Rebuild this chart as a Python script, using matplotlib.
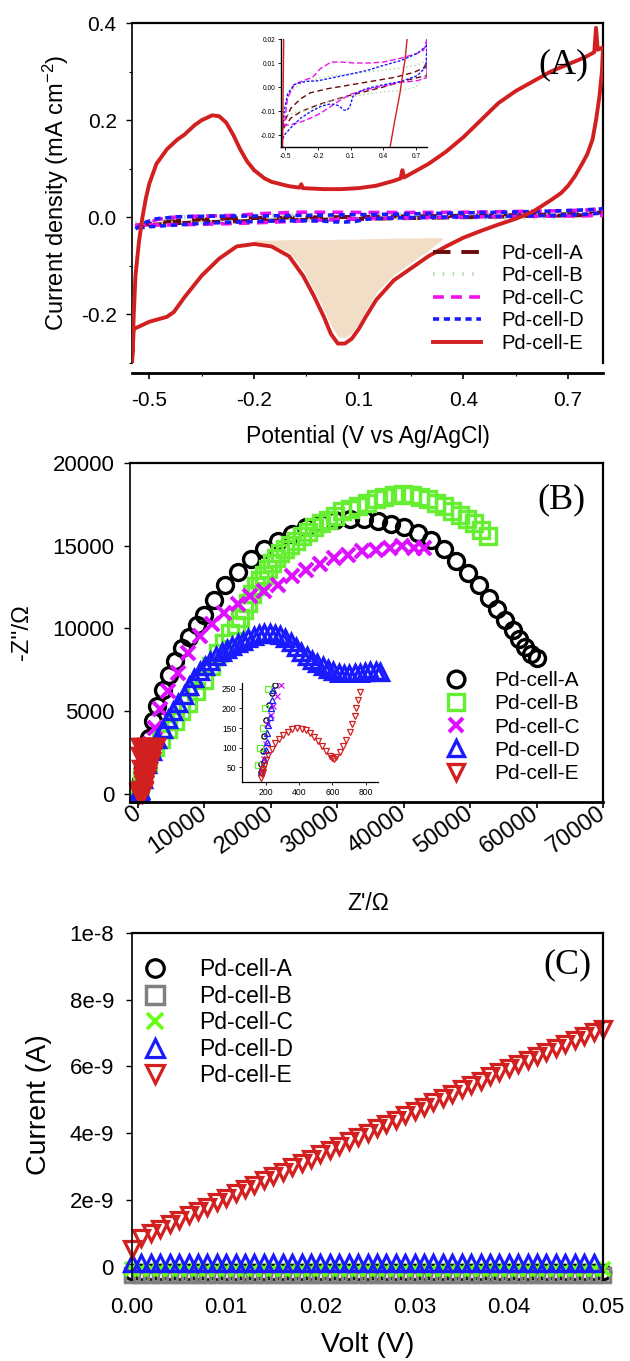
import matplotlib
matplotlib.use('Agg')
import matplotlib.pyplot as plt
from matplotlib.ticker import MultipleLocator, FormatStrFormatter, FixedLocator
import numpy as np

plt.rcParams['font.family'] = ['Liberation Sans', 'DejaVu Sans']
plt.rcParams['axes.unicode_minus'] = False
plt.rcParams['mathtext.fontset'] = 'custom'
plt.rcParams['mathtext.rm'] = 'Liberation Sans'
plt.rcParams['mathtext.default'] = 'regular'

labels = ['Pd-cell-A', 'Pd-cell-B', 'Pd-cell-C', 'Pd-cell-D', 'Pd-cell-E']

# ---------------- (A) cyclic voltammograms ----------------
cv_pot_A = [-0.54, -0.51, -0.45, -0.36, -0.27, -0.11, 0.10, 0.32, 0.50, 0.68, 0.77, 0.80,
            0.80, 0.77, 0.59, 0.40, 0.25, 0.10, -0.05, -0.20, -0.36, -0.45, -0.51, -0.54]
cv_cur_A = [-0.017, -0.0146, -0.0089, -0.0049, -0.0024, -0.0007, 0.0009, 0.0026, 0.004, 0.0061, 0.008, 0.0104,
            0.0047, 0.0045, 0.0026, 0.0, -0.0017, -0.0034, -0.0053, -0.0074, -0.0103, -0.013, -0.0167, -0.019]

cv_pot_B = [-0.54, -0.51, -0.45, -0.36, -0.20, -0.10, 0.10, 0.30, 0.50, 0.70, 0.80,
            0.80, 0.70, 0.55, 0.40, 0.25, 0.10, -0.10, -0.25, -0.40, -0.51, -0.54]
cv_cur_B = [-0.012, -0.008, -0.002, 0.0015, 0.0035, 0.0045, 0.0055, 0.0065, 0.0075, 0.009, 0.011,
            0.006, 0.0, -0.0015, -0.002, -0.003, -0.004, -0.006, -0.009, -0.0105, -0.012, -0.012]

cv_pot_C = [-0.54, -0.51, -0.48, -0.42, -0.34, -0.25, -0.18, -0.08, 0.01, 0.13, 0.28, 0.40, 0.56, 0.71, 0.77, 0.80,
            0.80, 0.71, 0.56, 0.40, 0.25, 0.10, 0.01, -0.08, -0.18, -0.27, -0.36, -0.45, -0.51, -0.54]
cv_cur_C = [-0.017, -0.016, -0.0046, 0.001, 0.0026, 0.004, 0.0076, 0.0104, 0.0104, 0.010, 0.010, 0.0104, 0.012,
            0.014, 0.0154, 0.020,
            0.004, 0.0026, 0.0019, 0.0004, -0.001, -0.003, -0.0053, -0.008, -0.011, -0.013, -0.0146, -0.0157,
            -0.016, -0.017]

cv_pot_D = [-0.54, -0.51, -0.48, -0.42, -0.32, -0.20, -0.05, 0.10, 0.25, 0.40, 0.56, 0.71, 0.79, 0.80,
            0.79, 0.71, 0.56, 0.40, 0.25, 0.15, 0.12, 0.09, 0.06, 0.03, 0.00, -0.05, -0.10, -0.17, -0.27,
            -0.36, -0.45, -0.51, -0.54]
cv_cur_D = [-0.024, -0.010, -0.003, 0.001, 0.0023, 0.0026, 0.004, 0.0054, 0.0069, 0.009, 0.011, 0.014, 0.0169, 0.018,
            0.0083, 0.0047, 0.0023, 0.0009, -0.0006, -0.0025, -0.004, -0.0085, -0.0098, -0.0095, -0.008, -0.0072,
            -0.0072, -0.008, -0.0103, -0.013, -0.017, -0.020, -0.024]

cv_pot_E = [-0.55, -0.545, -0.54, -0.53, -0.52, -0.51, -0.50, -0.48, -0.45, -0.42, -0.40, -0.37, -0.35,
            -0.32, -0.30, -0.28, -0.26, -0.24, -0.22, -0.20, -0.17, -0.15, -0.10, -0.07, -0.065, -0.06,
            0.00, 0.05, 0.10, 0.15, 0.20, 0.22, 0.225, 0.23, 0.25, 0.30, 0.35, 0.40, 0.45, 0.50, 0.55,
            0.60, 0.65, 0.70, 0.75, 0.775, 0.78, 0.785, 0.80,
            0.797, 0.79, 0.78, 0.77, 0.755, 0.74, 0.72, 0.70, 0.68, 0.65, 0.60, 0.55, 0.50, 0.45, 0.40,
            0.35, 0.30, 0.25, 0.20, 0.15, 0.12, 0.10, 0.08, 0.06, 0.04, 0.02, 0.00, -0.03, -0.06, -0.10,
            -0.15, -0.20, -0.25, -0.30, -0.35, -0.40, -0.43, -0.45, -0.50, -0.53, -0.545, -0.55]
cv_cur_E = [-0.30, -0.20, -0.12, -0.05, 0.00, 0.04, 0.07, 0.11, 0.14, 0.16, 0.17, 0.19, 0.20,
            0.21, 0.208, 0.195, 0.17, 0.14, 0.115, 0.097, 0.08, 0.073, 0.064, 0.061, 0.068, 0.060,
            0.058, 0.058, 0.060, 0.065, 0.075, 0.080, 0.097, 0.082, 0.090, 0.110, 0.135, 0.165, 0.200, 0.235, 0.260,
            0.280, 0.300, 0.315, 0.330, 0.340, 0.390, 0.345, 0.350,
            0.30, 0.25, 0.20, 0.16, 0.13, 0.11, 0.085, 0.065, 0.05, 0.035, 0.012, -0.003, -0.015, -0.028, -0.042,
            -0.06, -0.08, -0.105, -0.13, -0.17, -0.205, -0.23, -0.25, -0.26, -0.26, -0.24, -0.205, -0.16, -0.12, -0.08,
            -0.06, -0.055, -0.06, -0.085, -0.12, -0.165, -0.195, -0.205, -0.215, -0.225, -0.23, -0.30]

# shaded reduction peak
peak_pot = [-0.20, -0.15, -0.10, -0.06, -0.03, 0.00, 0.02, 0.04, 0.06, 0.08, 0.10, 0.12, 0.15, 0.20, 0.25, 0.30, 0.34]
peak_low = [-0.050, -0.055, -0.072, -0.108, -0.148, -0.19, -0.222, -0.245, -0.248, -0.238, -0.218, -0.192, -0.155,
            -0.118, -0.093, -0.068, -0.045]
peak_top = [-0.047, -0.047, -0.046, -0.046, -0.046, -0.046, -0.046, -0.045, -0.045, -0.045, -0.045, -0.044, -0.044,
            -0.043, -0.043, -0.042, -0.042]

# ---------------- (B) Nyquist plots ----------------
zre_A = [170, 172, 180, 190, 200, 215, 235, 254, 400, 700, 1100, 1600, 2200, 2900, 3700, 4600, 5600, 6600, 7700,
         8900, 10000, 11400, 13100, 15000, 17000, 19000, 21100, 23200, 25300, 27500, 29700, 31900, 34000, 36100,
         38100, 40100, 42100, 44100, 46000, 47900, 49700, 51300, 52800, 54100, 55300, 56400, 57400, 58300, 59200,
         60000]
zim_A = [38, 59, 90, 130, 170, 210, 240, 260, 800, 1600, 2500, 3400, 4400, 5300, 6300, 7200, 8000, 8800, 9500,
         10200, 10800, 11700, 12600, 13400, 14200, 14800, 15300, 15700, 16100, 16400, 16550, 16600, 16600, 16480,
         16300, 16100, 15750, 15350, 14800, 14050, 13350, 12600, 11850, 11150, 10500, 9900, 9350, 8850, 8450,
         8200]

zre_B = [150, 165, 180, 195, 210, 600, 1500, 2500, 3500, 4500, 5500, 6500, 7500, 8700, 9900, 11000, 12000,
         13000, 13900, 14700, 15400, 16000, 16600, 17200, 17800, 18400, 19000, 19600, 20200, 20800, 21400, 22100,
         22900, 23800, 24700, 25600, 26500, 27500, 28600, 29700, 30700, 31900, 33100, 34400, 35800, 37100, 38500,
         39900, 41300, 42500, 43700, 44900, 46100, 47300, 48500, 49600, 50600, 51700, 52700]
zim_B = [55, 100, 150, 200, 250, 900, 1900, 2800, 3300, 3900, 4400, 5000, 5500, 6200, 6900, 7700, 8500,
         9100, 9740, 10200, 10640, 11100, 11550, 12050, 12550, 12900, 13250, 13600, 13950, 14250, 14560, 14800,
         15060, 15300, 15560, 15850, 16160, 16350, 16560, 16800, 17070, 17200, 17370, 17600, 17810, 17950, 18070,
         18100, 18070, 17950, 17810, 17600, 17370, 17100, 16870, 16600, 16370, 15950, 15560]

zre_C = [175, 190, 200, 208, 228, 240, 266, 290, 600, 1200, 1800, 2500, 3300, 4500, 6000, 7500, 9300, 11100,
         12950, 15000, 16900, 19000, 21100, 23200, 25300, 27400, 29500, 31600, 33700, 35800, 37950, 39800,
         41600, 43100]
zim_C = [40, 70, 110, 160, 183, 207, 233, 259, 1000, 2000, 3000, 4000, 5100, 6200, 7300, 8500, 9540, 10240,
         10950, 11450, 11950, 12250, 12650, 13150, 13550, 13900, 14250, 14460, 14660, 14760, 14860, 14960,
         14860, 14860]

zre_D = [170, 178, 190, 198, 204, 208, 214, 222, 230, 238, 244, 700, 1400, 2100, 2900, 3700, 4500, 5300, 6100,
         6900, 7700, 8500, 9300, 10100, 10900, 11750, 12600, 13400, 14200, 15000, 15800, 16600, 17400, 18200,
         19000, 19800, 20600, 21400, 22200, 23000, 23800, 24600, 25400, 26200, 27000, 27800, 28600, 29400, 30200,
         31000, 31800, 32600, 33400, 34200, 35000, 35800, 36500]
zim_D = [38, 51, 72, 94, 115, 137, 158, 179, 200, 222, 247, 900, 1800, 2600, 3300, 3900, 4500, 5000, 5500,
         6000, 6500, 7000, 7400, 7750, 8050, 8330, 8550, 8750, 8940, 9100, 9250, 9400, 9550, 9650,
         9700, 9720, 9680, 9580, 9400, 9150, 8900, 8600, 8350, 8100, 7900, 7700, 7530, 7400, 7300,
         7230, 7250, 7300, 7330, 7380, 7420, 7450, 7350]

zre_E = [172, 175, 180, 184, 190, 200, 214, 234, 254, 278, 304, 330, 358, 386, 414, 440, 466, 490, 514, 538,
         562, 584, 600, 612, 624, 644, 664, 684, 704, 718, 734, 744, 756, 768,
         800, 900, 1000, 1100, 1200, 1400, 1600, 2000, 2400, 2700,
         900, 1100, 1300, 1500, 1700, 1900, 2100, 2300, 2500,
         300, 500, 700, 300, 500, 700, 900, 400, 600, 800]
zim_E = [22, 32, 45, 38, 53, 68, 81, 96, 111, 122, 132, 141, 147, 150, 148, 144, 137, 128, 118, 105,
         91, 79, 74, 72, 77, 88, 103, 120, 141, 160, 180, 201, 222, 242,
         800, 1300, 1800, 2300, 2800, 2850, 2850, 2850, 2850, 2850,
         500, 800, 1100, 1400, 1700, 2000, 2300, 2550, 2750,
         2850, 2850, 2850, 2300, 2300, 2100, 2000, 1500, 1500, 1000]

# ---------------- (C) I-V curves ----------------
volt = [0.000, 0.001, 0.002, 0.003, 0.004, 0.005, 0.006, 0.007, 0.008, 0.009, 0.010, 0.011, 0.012,
        0.013, 0.014, 0.015, 0.016, 0.017, 0.018, 0.019, 0.020, 0.021, 0.022, 0.023, 0.024, 0.025,
        0.026, 0.027, 0.028, 0.029, 0.030, 0.031, 0.032, 0.033, 0.034, 0.035, 0.036, 0.037, 0.038,
        0.039, 0.040, 0.041, 0.042, 0.043, 0.044, 0.045, 0.046, 0.047, 0.048, 0.049, 0.050]
# currents in nA
iv_A = [-0.15, -0.15, -0.15, -0.15, -0.15, -0.15, -0.15, -0.15, -0.15, -0.15, -0.15, -0.15, -0.15,
        -0.15, -0.15, -0.15, -0.15, -0.15, -0.15, -0.15, -0.15, -0.15, -0.15, -0.15, -0.15, -0.15,
        -0.15, -0.15, -0.15, -0.15, -0.15, -0.15, -0.15, -0.15, -0.15, -0.15, -0.15, -0.15, -0.15,
        -0.15, -0.15, -0.15, -0.15, -0.15, -0.15, -0.15, -0.15, -0.15, -0.15, -0.15, -0.15]
iv_B = [-0.24, -0.24, -0.24, -0.24, -0.24, -0.24, -0.24, -0.24, -0.24, -0.24, -0.24, -0.24, -0.24,
        -0.24, -0.24, -0.24, -0.24, -0.24, -0.24, -0.24, -0.24, -0.24, -0.24, -0.24, -0.24, -0.24,
        -0.24, -0.24, -0.24, -0.24, -0.24, -0.24, -0.24, -0.24, -0.24, -0.24, -0.24, -0.24, -0.24,
        -0.24, -0.24, -0.24, -0.24, -0.24, -0.24, -0.24, -0.24, -0.24, -0.24, -0.24, -0.24]
iv_C = [-0.06, -0.06, -0.06, -0.06, -0.06, -0.06, -0.06, -0.06, -0.06, -0.06, -0.06, -0.06, -0.06,
        -0.06, -0.06, -0.06, -0.06, -0.06, -0.06, -0.06, -0.06, -0.06, -0.06, -0.06, -0.06, -0.06,
        -0.06, -0.06, -0.06, -0.06, -0.06, -0.06, -0.06, -0.06, -0.06, -0.06, -0.06, -0.06, -0.06,
        -0.06, -0.06, -0.06, -0.06, -0.06, -0.06, -0.06, -0.06, -0.06, -0.06, -0.06, -0.06]
# Pd-cell-D stops one step before 0.05 V
iv_D = [0.12, 0.12, 0.12, 0.12, 0.12, 0.12, 0.12, 0.12, 0.12, 0.12, 0.12, 0.12, 0.12,
        0.12, 0.12, 0.12, 0.12, 0.12, 0.12, 0.12, 0.12, 0.12, 0.12, 0.12, 0.12, 0.12,
        0.12, 0.12, 0.12, 0.12, 0.12, 0.12, 0.12, 0.12, 0.12, 0.12, 0.12, 0.12, 0.12,
        0.12, 0.12, 0.12, 0.12, 0.12, 0.12, 0.12, 0.12, 0.12, 0.12, 0.12]
iv_E = [0.52, 0.87, 1.00, 1.14, 1.27, 1.40, 1.54, 1.67, 1.80, 1.94, 2.07, 2.20, 2.33,
        2.46, 2.59, 2.72, 2.85, 2.98, 3.11, 3.24, 3.37, 3.50, 3.63, 3.76, 3.89, 4.02,
        4.15, 4.28, 4.41, 4.54, 4.67, 4.80, 4.93, 5.06, 5.18, 5.31, 5.44, 5.57, 5.70,
        5.82, 5.95, 6.07, 6.19, 6.31, 6.43, 6.55, 6.67, 6.79, 6.91, 7.02, 7.12]

W, H = 630, 1361
fig = plt.figure(figsize=(W / 100, H / 100), dpi=100)


def box(l, t, r, b):
    # pixel box -> figure fraction rect
    return [l / W, 1 - b / H, (r - l) / W, (b - t) / H]


def frame(ax, lw=1.6):
    for s in ax.spines.values():
        s.set_linewidth(lw)
        s.set_color('black')


# ===== panel A =====
axA = fig.add_axes(box(132, 23, 603, 363))
frame(axA)
axA.spines['left'].set_linewidth(1.2)
axA.spines['bottom'].set_position(('outward', 7))
axA.spines['bottom'].set_linewidth(2.0)

cv_styles = [
    dict(color='#6b0a0a', lw=2.8, dashes=(4.5, 2.8)),
    dict(color='#b9dcb4', lw=3.0, dashes=(0.35, 2.0)),
    dict(color='#ee11ee', lw=2.6, dashes=(3.0, 2.0)),
    dict(color='#1a1aff', lw=2.6, dashes=(1.7, 1.3)),
    dict(color='#d21f1f', lw=2.8),
]
cv_data = [(cv_pot_A, cv_cur_A), (cv_pot_B, cv_cur_B), (cv_pot_C, cv_cur_C),
           (cv_pot_D, cv_cur_D), (cv_pot_E, cv_cur_E)]

axA.fill_between(peak_pot, peak_low, peak_top, color='#f2ddc6', lw=0, zorder=1)
for (p, c), st, lab in zip(cv_data, cv_styles, labels):
    axA.plot(p, c, label=lab, zorder=3, **st)

axA.set_xlim(-0.55, 0.8)
axA.set_ylim(-0.3, 0.4)
axA.xaxis.set_major_locator(FixedLocator([-0.5, -0.2, 0.1, 0.4, 0.7]))
axA.xaxis.set_minor_locator(FixedLocator([-0.35, -0.05, 0.25, 0.55]))
axA.yaxis.set_major_locator(MultipleLocator(0.2))
axA.yaxis.set_minor_locator(MultipleLocator(0.1))
axA.xaxis.set_major_formatter(FormatStrFormatter('%.1f'))
axA.yaxis.set_major_formatter(FormatStrFormatter('%.1f'))
axA.tick_params(which='both', direction='out', top=False, right=False, labelsize=15)
axA.tick_params(axis='x', which='major', length=4, width=1.2, pad=9)
axA.tick_params(axis='y', which='major', length=4, width=1.0, pad=7)
axA.tick_params(which='minor', length=2.5, width=0.8)

legA = axA.legend(loc='center left', bbox_to_anchor=(0.639, 0.19), frameon=False, fontsize=14.5,
                  handlelength=2.4, handletextpad=1.0, labelspacing=0.17, borderpad=0, borderaxespad=0)

# inset of panel A
axAi = fig.add_axes(box(281, 39, 427, 147))
axAi.set_zorder(5)
for s in ['top', 'right']:
    axAi.spines[s].set_visible(False)
axAi.spines['left'].set_linewidth(1.0)
axAi.spines['bottom'].set_linewidth(1.0)
in_styles = [
    dict(color='#6b0a0a', lw=1.0, dashes=(4, 2.5)),
    dict(color='#a8d8a0', lw=1.0, dashes=(1, 2)),
    dict(color='#ee11ee', lw=1.0, dashes=(4, 2)),
    dict(color='#1a1aff', lw=1.0, dashes=(2, 1.2)),
    dict(color='#d21f1f', lw=1.0),
]
for (p, c), st in zip(cv_data, in_styles):
    axAi.plot(p, c, **st)
axAi.set_xlim(-0.54, 0.8)
axAi.set_ylim(-0.025, 0.02)
axAi.xaxis.set_major_locator(FixedLocator([-0.5, -0.2, 0.1, 0.4, 0.7]))
axAi.yaxis.set_major_locator(FixedLocator([-0.02, -0.01, 0.0, 0.01, 0.02]))
axAi.xaxis.set_major_formatter(FormatStrFormatter('%.1f'))
axAi.yaxis.set_major_formatter(FormatStrFormatter('%.2f'))
axAi.tick_params(direction='out', length=2, width=0.6, labelsize=4.8, pad=2)

# ===== panel B =====
axB = fig.add_axes(box(130, 463, 603, 802))
frame(axB)
axB.spines['left'].set_linewidth(1.2)
axB.spines['bottom'].set_linewidth(2.0)

nyq_data = [(zre_A, zim_A), (zre_B, zim_B), (zre_C, zim_C), (zre_D, zim_D), (zre_E, zim_E)]
nyq_styles = [
    dict(marker='o', ms=11.5, mew=2.4, mec='black', mfc='none'),
    dict(marker='s', ms=11, mew=2.4, mec='#66ee33', mfc='none'),
    dict(marker='x', ms=10, mew=2.9, mec='#dd11ff'),
    dict(marker='^', ms=11.5, mew=2.4, mec='#1a1aff', mfc='none'),
    dict(marker='v', ms=11.5, mew=2.4, mec='#d21f1f', mfc='none'),
]
for (x, y), st, lab in zip(nyq_data, nyq_styles, labels):
    axB.plot(x, y, ls='none', label=lab, clip_on=False, **st)

axB.set_xlim(-1200, 70000)
axB.set_ylim(-500, 20000)
axB.xaxis.set_major_locator(MultipleLocator(10000))
axB.yaxis.set_major_locator(MultipleLocator(5000))
axB.tick_params(direction='out', top=False, right=False, labelsize=16)
axB.tick_params(axis='x', length=4, width=1.2, pad=3, labelsize=17)
axB.tick_params(axis='y', length=4, width=1.0, pad=7)
for t in axB.get_xticklabels():
    t.set_rotation(35)
    t.set_ha('right')
    t.set_va('center')
    t.set_rotation_mode('anchor')

legB = axB.legend(loc='center left', bbox_to_anchor=(0.668, 0.221), frameon=False, fontsize=15,
                  handlelength=1.0, handletextpad=1.3, labelspacing=0.2, borderpad=0, borderaxespad=0,
                  markerscale=1.05)

# inset of panel B
axBi = fig.add_axes(box(242, 683, 378, 782))
axBi.set_zorder(5)
for s in ['top', 'right']:
    axBi.spines[s].set_visible(False)
axBi.spines['left'].set_linewidth(0.9)
axBi.spines['bottom'].set_linewidth(0.9)
for (x, y), st in zip(nyq_data, nyq_styles):
    small = dict(st)
    small['ms'] = 3.8
    small['mew'] = 0.9
    axBi.plot(x, y, ls='none', **small)
axBi.set_xlim(55, 875)
axBi.set_ylim(12, 265)
axBi.xaxis.set_major_locator(FixedLocator([200, 400, 600, 800]))
axBi.yaxis.set_major_locator(FixedLocator([50, 100, 150, 200, 250]))
axBi.tick_params(direction='out', length=2, width=0.6, labelsize=6.2, pad=2)

# ===== panel C =====
axC = fig.add_axes(box(132, 933, 603, 1280))
frame(axC)
axC.spines['left'].set_linewidth(1.2)
axC.spines['bottom'].set_visible(False)

iv_data = [iv_A, iv_B, iv_C, iv_D, iv_E]
iv_styles = [
    dict(marker='o', ms=10.5, mew=2.3, mec='black', mfc='none'),
    dict(marker='s', ms=10.5, mew=2.5, mec='#808080', mfc='none'),
    dict(marker='x', ms=9.5, mew=2.6, mec='#66ff11'),
    dict(marker='^', ms=11, mew=2.3, mec='#1a1aff', mfc='none'),
    dict(marker='v', ms=11, mew=2.3, mec='#d21f1f', mfc='none'),
]
for cur, st, lab in zip(iv_data, iv_styles, labels):
    axC.plot(volt[:len(cur)], np.array(cur) * 1e-9, ls='none', label=lab, clip_on=False, **st)

axC.set_xlim(0, 0.05)
axC.set_ylim(-0.4e-9, 1.0e-8)
axC.set_xticks([0.0, 0.01, 0.02, 0.03, 0.04, 0.05])
axC.xaxis.set_major_formatter(FormatStrFormatter('%.2f'))
axC.set_yticks([0, 2e-9, 4e-9, 6e-9, 8e-9, 1e-8])
axC.set_yticklabels(['0', '2e-9', '4e-9', '6e-9', '8e-9', '1e-8'])
axC.tick_params(direction='out', top=False, right=False, labelsize=16)
axC.tick_params(axis='x', length=0, pad=12)
axC.tick_params(axis='y', length=4, width=1.0, pad=9)

legC = axC.legend(loc='center left', bbox_to_anchor=(0.025, 0.741), frameon=False, fontsize=16.5,
                  handlelength=1.0, handletextpad=1.4, labelspacing=0.15, borderpad=0, borderaxespad=0,
                  markerscale=1.2)

# ===== axis titles and panel tags =====
def ftext(x, y, s, **kw):
    fig.text(x / W, 1 - y / H, s, ha='center', va='center', **kw)


ftext(56, 193, 'Current density (mA cm$^{-2}$)', rotation=90, fontsize=17)
ftext(368, 437, 'Potential (V vs Ag/AgCl)', fontsize=16.5)
ftext(22, 632, "-Z''/\u03a9", rotation=90, fontsize=17)
ftext(368, 903, "Z'/\u03a9", fontsize=16.5)
ftext(39, 1105, 'Current (A)', rotation=90, fontsize=20.5)
ftext(368, 1345, 'Volt (V)', fontsize=20.5)

ftext(563, 65, '(A)', family='Liberation Serif', fontsize=26)
ftext(561, 500, '(B)', family='Liberation Serif', fontsize=26)
ftext(567, 965, '(C)', family='Liberation Serif', fontsize=26)

fig.savefig('out.png', dpi=100)
